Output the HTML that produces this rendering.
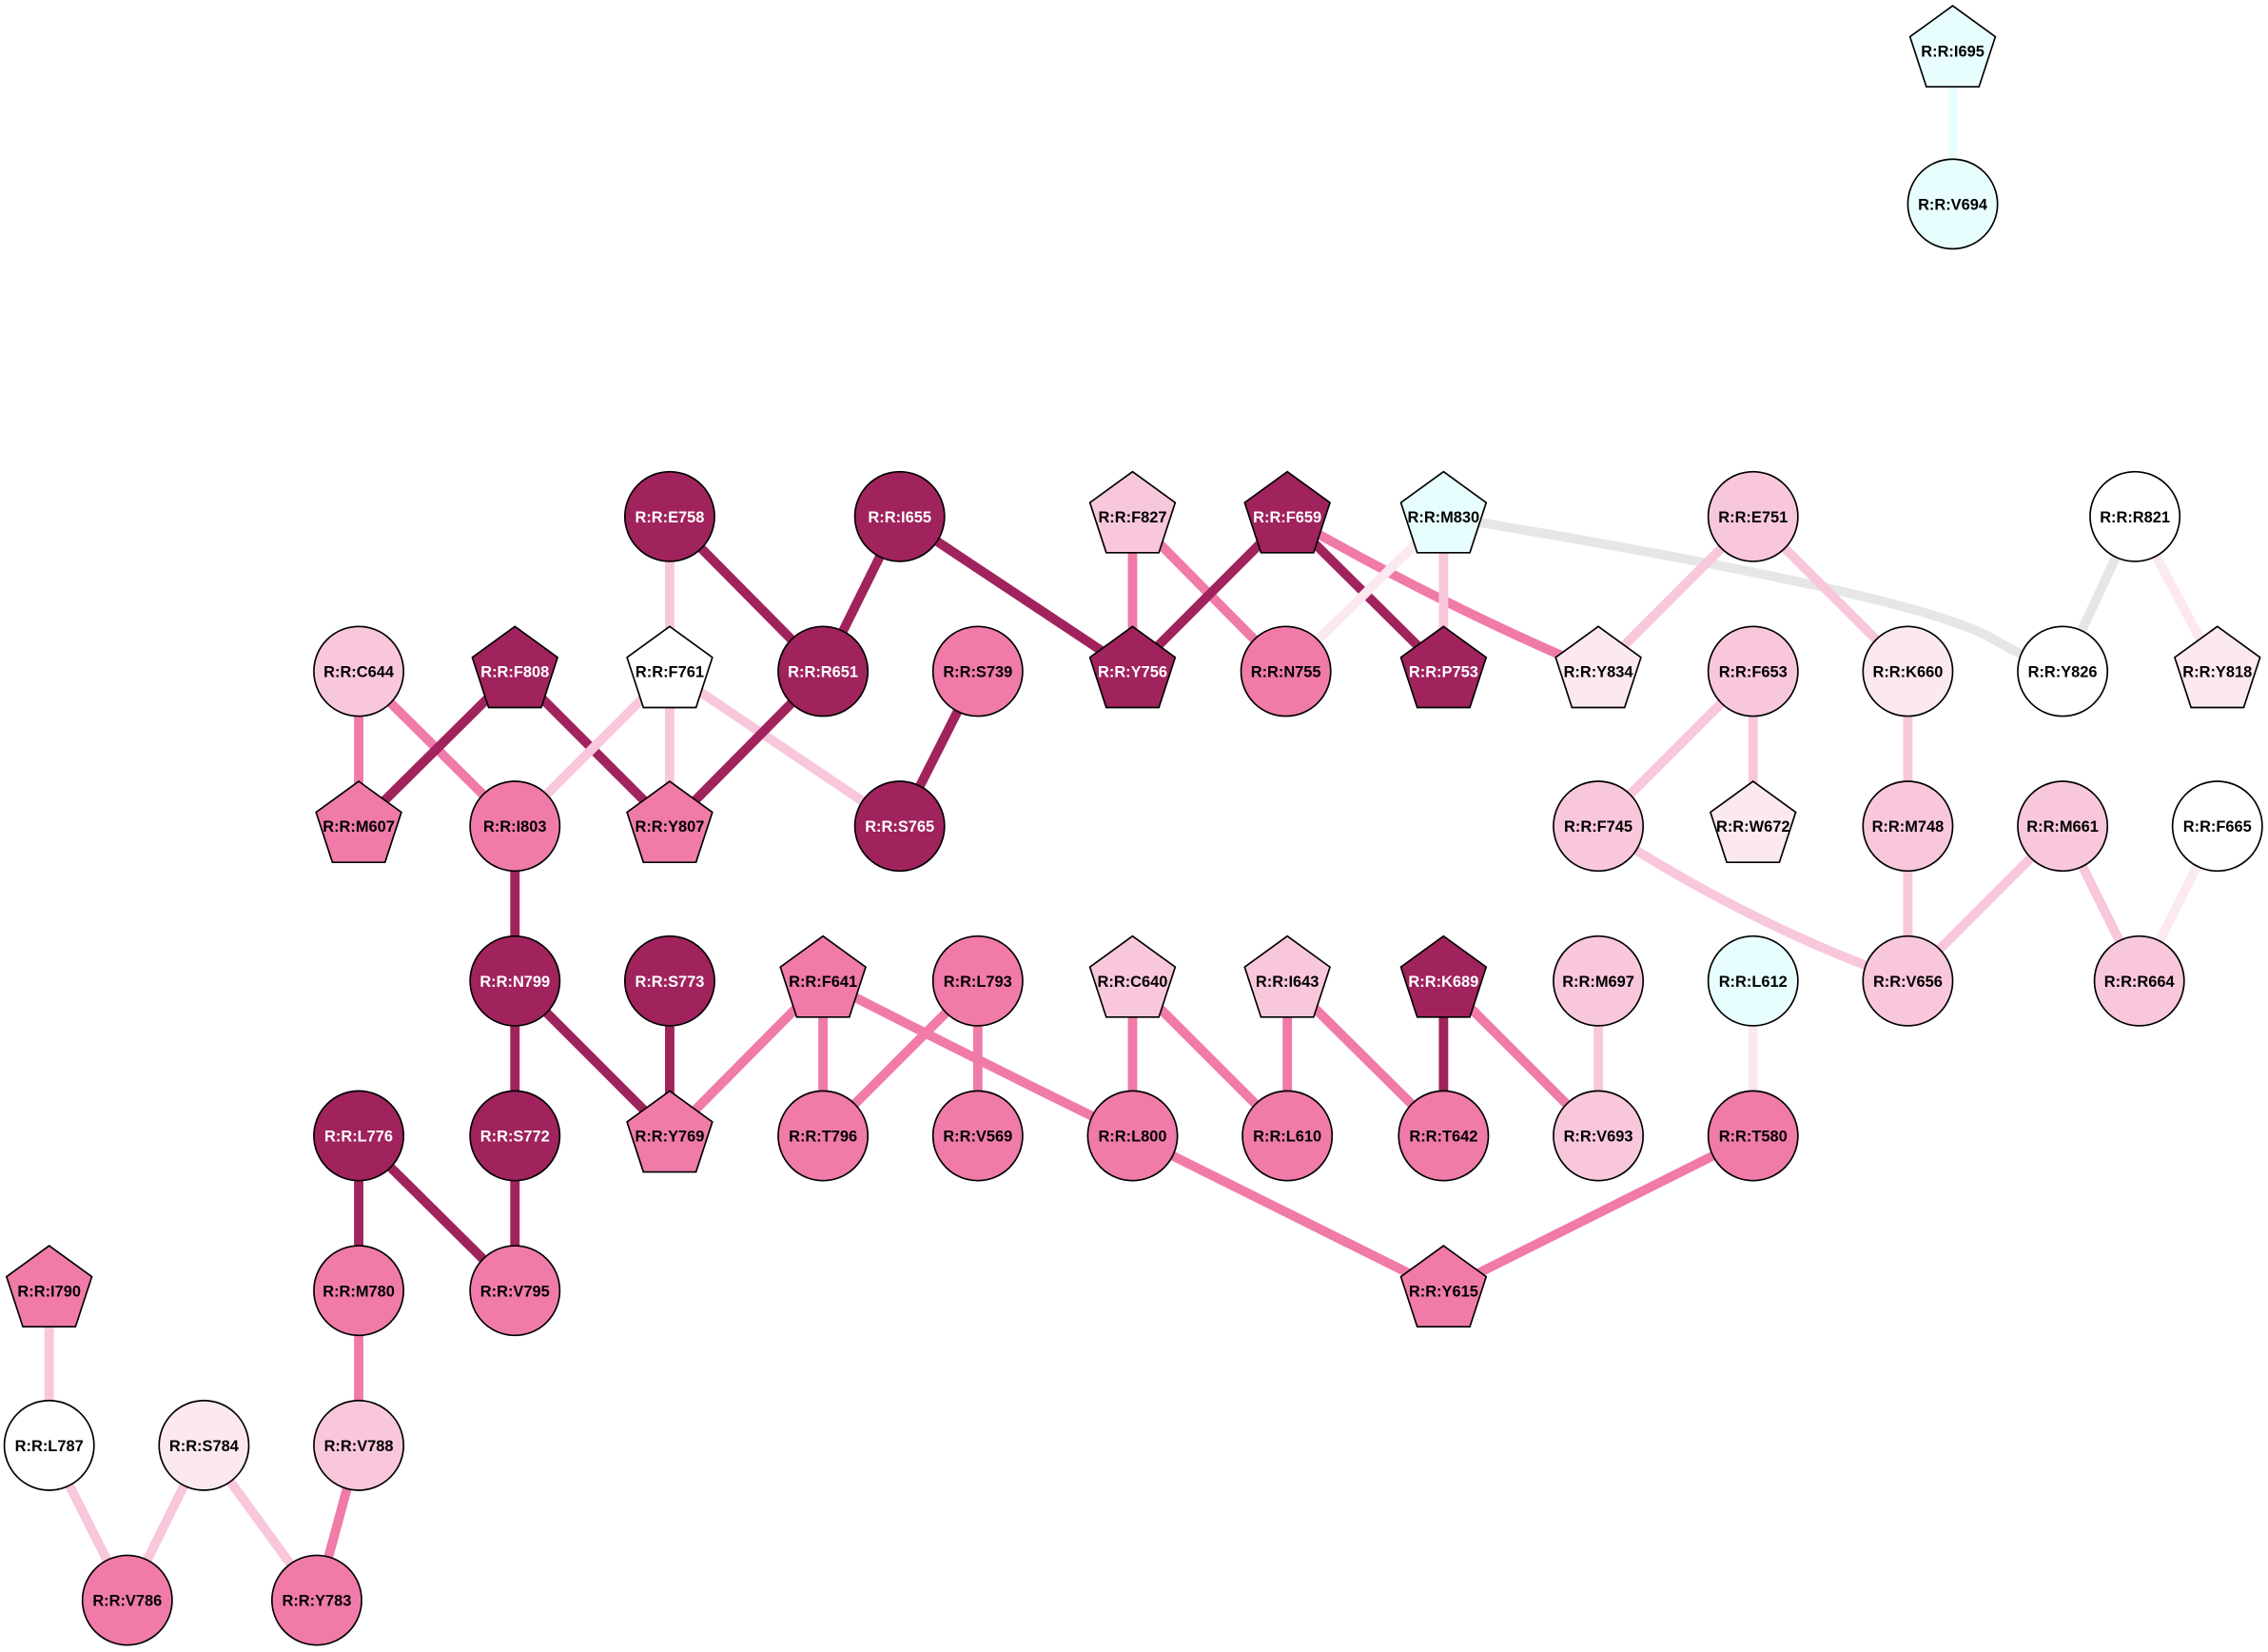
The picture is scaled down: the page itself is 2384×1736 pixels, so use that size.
<!DOCTYPE html>
<html><head><meta charset="utf-8"><style>
html,body{margin:0;padding:0;background:#fff;}
svg{display:block;}
text{font-family:"Liberation Sans",Arial,sans-serif;font-weight:bold;font-size:10.8px;text-anchor:middle;}
.w{fill:#fff}
.b{fill:#000}
circle,polygon{stroke:#000;stroke-width:1.1}
line,path{stroke-width:6.5;fill:none}
.D{stroke:#a0235d}.M{stroke:#f07ba8}.L{stroke:#f9c7dc}.V{stroke:#fce8f0}.C{stroke:#e8fefe}.G{stroke:#e6e6e6}
</style></head><body>
<svg width="2384" height="1736" viewBox="0 0 1568 1141.8" xmlns="http://www.w3.org/2000/svg">
<defs><polygon id="p" points="0,-31 29.5,-9.6 18.2,25 -18.2,25 -29.5,-9.6"/></defs>
<g>
<line class="C" x1="1350" y1="35" x2="1350" y2="141"/>
<line class="L" x1="463" y1="357" x2="463" y2="464"/>
<line class="D" x1="463" y1="357" x2="569" y2="464"/>
<line class="D" x1="622" y1="357" x2="569" y2="464"/>
<line class="D" x1="622" y1="357" x2="783" y2="464"/>
<line class="M" x1="783" y1="357" x2="783" y2="464"/>
<line class="M" x1="783" y1="357" x2="889" y2="464"/>
<line class="D" x1="890" y1="357" x2="783" y2="464"/>
<line class="D" x1="890" y1="357" x2="998" y2="464"/>
<path class="M" d="M890,357 Q1000,420 1105,464"/>
<line class="V" x1="998" y1="357" x2="889" y2="464"/>
<line class="L" x1="998" y1="357" x2="998" y2="464"/>
<path class="G" d="M998,357 Q1320,410 1375,440 Q1400,455 1426,464"/>
<line class="L" x1="1212" y1="357" x2="1105" y2="464"/>
<line class="L" x1="1212" y1="357" x2="1319" y2="464"/>
<line class="G" x1="1476" y1="357" x2="1426" y2="464"/>
<line class="V" x1="1476" y1="357" x2="1533" y2="464"/>
<line class="M" x1="248" y1="464" x2="248" y2="571"/>
<line class="M" x1="248" y1="464" x2="356" y2="571"/>
<line class="D" x1="356" y1="464" x2="248" y2="571"/>
<line class="D" x1="356" y1="464" x2="463" y2="571"/>
<line class="L" x1="463" y1="464" x2="356" y2="571"/>
<line class="L" x1="463" y1="464" x2="463" y2="571"/>
<line class="L" x1="463" y1="464" x2="622" y2="571"/>
<line class="D" x1="569" y1="464" x2="463" y2="571"/>
<line class="D" x1="676" y1="464" x2="622" y2="571"/>
<line class="L" x1="1212" y1="464" x2="1105" y2="571"/>
<line class="L" x1="1212" y1="464" x2="1212" y2="571"/>
<line class="L" x1="1319" y1="464" x2="1319" y2="571"/>
<line class="L" x1="1319" y1="571" x2="1319" y2="678"/>
<path class="L" d="M1105,571 Q1210,640 1319,678"/>
<line class="L" x1="1426" y1="571" x2="1319" y2="678"/>
<line class="L" x1="1426" y1="571" x2="1479" y2="678"/>
<line class="V" x1="1533" y1="571" x2="1479" y2="678"/>
<line class="D" x1="356" y1="571" x2="356" y2="678"/>
<line class="D" x1="356" y1="678" x2="356" y2="785"/>
<line class="D" x1="356" y1="678" x2="463" y2="785"/>
<line class="D" x1="463" y1="678" x2="463" y2="785"/>
<line class="M" x1="569" y1="678" x2="463" y2="785"/>
<line class="M" x1="569" y1="678" x2="569" y2="785"/>
<path class="M" d="M569,678 Q690,740 783,785"/>
<line class="M" x1="676" y1="678" x2="569" y2="785"/>
<line class="M" x1="676" y1="678" x2="676" y2="785"/>
<line class="M" x1="783" y1="678" x2="783" y2="785"/>
<line class="M" x1="783" y1="678" x2="890" y2="785"/>
<line class="M" x1="890" y1="678" x2="890" y2="785"/>
<line class="M" x1="890" y1="678" x2="998" y2="785"/>
<line class="D" x1="998" y1="678" x2="998" y2="785"/>
<line class="M" x1="998" y1="678" x2="1105" y2="785"/>
<line class="L" x1="1105" y1="678" x2="1105" y2="785"/>
<line class="V" x1="1212" y1="678" x2="1212" y2="785"/>
<line class="D" x1="248" y1="785" x2="248" y2="892"/>
<line class="D" x1="248" y1="785" x2="356" y2="892"/>
<line class="D" x1="356" y1="785" x2="356" y2="892"/>
<line class="M" x1="783" y1="785" x2="998" y2="892"/>
<line class="M" x1="1212" y1="785" x2="998" y2="892"/>
<line class="L" x1="34" y1="892" x2="34" y2="999"/>
<line class="L" x1="34" y1="999" x2="88" y2="1106"/>
<line class="L" x1="141" y1="999" x2="88" y2="1106"/>
<line class="L" x1="141" y1="999" x2="219" y2="1106"/>
<line class="M" x1="248" y1="892" x2="248" y2="999"/>
<line class="M" x1="248" y1="999" x2="219" y2="1106"/>
</g>
<g>
<use href="#p" x="1350" y="35" style="fill:#e8fefe;stroke:#000;stroke-width:1.1"/><text x="1350" y="39" class="b">R:R:I695</text>
<circle cx="1350" cy="141" r="31" fill="#e8fefe"/><text x="1350" y="145" class="b">R:R:V694</text>
<circle cx="463" cy="357" r="31" fill="#a0235d"/><text x="463" y="361" class="w">R:R:E758</text>
<circle cx="622" cy="357" r="31" fill="#a0235d"/><text x="622" y="361" class="w">R:R:I655</text>
<use href="#p" x="783" y="357" style="fill:#f9c7dc;stroke:#000;stroke-width:1.1"/><text x="783" y="361" class="b">R:R:F827</text>
<use href="#p" x="890" y="357" style="fill:#a0235d;stroke:#000;stroke-width:1.1"/><text x="890" y="361" class="w">R:R:F659</text>
<use href="#p" x="998" y="357" style="fill:#e8fefe;stroke:#000;stroke-width:1.1"/><text x="998" y="361" class="b">R:R:M830</text>
<circle cx="1212" cy="357" r="31" fill="#f9c7dc"/><text x="1212" y="361" class="b">R:R:E751</text>
<circle cx="1476" cy="357" r="31" fill="#ffffff"/><text x="1476" y="361" class="b">R:R:R821</text>
<circle cx="248" cy="464" r="31" fill="#f9c7dc"/><text x="248" y="468" class="b">R:R:C644</text>
<use href="#p" x="356" y="464" style="fill:#a0235d;stroke:#000;stroke-width:1.1"/><text x="356" y="468" class="w">R:R:F808</text>
<use href="#p" x="463" y="464" style="fill:#fff;stroke:#000;stroke-width:1.1"/><text x="463" y="468" class="b">R:R:F761</text>
<circle cx="569" cy="464" r="31" fill="#a0235d"/><text x="569" y="468" class="w">R:R:R651</text>
<circle cx="676" cy="464" r="31" fill="#f07ba8"/><text x="676" y="468" class="b">R:R:S739</text>
<use href="#p" x="783" y="464" style="fill:#a0235d;stroke:#000;stroke-width:1.1"/><text x="783" y="468" class="w">R:R:Y756</text>
<circle cx="889" cy="464" r="31" fill="#f07ba8"/><text x="889" y="468" class="b">R:R:N755</text>
<use href="#p" x="998" y="464" style="fill:#a0235d;stroke:#000;stroke-width:1.1"/><text x="998" y="468" class="w">R:R:P753</text>
<use href="#p" x="1105" y="464" style="fill:#fce8f0;stroke:#000;stroke-width:1.1"/><text x="1105" y="468" class="b">R:R:Y834</text>
<circle cx="1212" cy="464" r="31" fill="#f9c7dc"/><text x="1212" y="468" class="b">R:R:F653</text>
<circle cx="1319" cy="464" r="31" fill="#fce8f0"/><text x="1319" y="468" class="b">R:R:K660</text>
<circle cx="1426" cy="464" r="31" fill="#fff"/><text x="1426" y="468" class="b">R:R:Y826</text>
<use href="#p" x="1533" y="464" style="fill:#fce8f0;stroke:#000;stroke-width:1.1"/><text x="1533" y="468" class="b">R:R:Y818</text>
<use href="#p" x="248" y="571" style="fill:#f07ba8;stroke:#000;stroke-width:1.1"/><text x="248" y="575" class="b">R:R:M607</text>
<circle cx="356" cy="571" r="31" fill="#f07ba8"/><text x="356" y="575" class="b">R:R:I803</text>
<use href="#p" x="463" y="571" style="fill:#f07ba8;stroke:#000;stroke-width:1.1"/><text x="463" y="575" class="b">R:R:Y807</text>
<circle cx="622" cy="571" r="31" fill="#a0235d"/><text x="622" y="575" class="w">R:R:S765</text>
<circle cx="1105" cy="571" r="31" fill="#f9c7dc"/><text x="1105" y="575" class="b">R:R:F745</text>
<use href="#p" x="1212" y="571" style="fill:#fce8f0;stroke:#000;stroke-width:1.1"/><text x="1212" y="575" class="b">R:R:W672</text>
<circle cx="1319" cy="571" r="31" fill="#f9c7dc"/><text x="1319" y="575" class="b">R:R:M748</text>
<circle cx="1426" cy="571" r="31" fill="#f9c7dc"/><text x="1426" y="575" class="b">R:R:M661</text>
<circle cx="1533" cy="571" r="31" fill="#fff"/><text x="1533" y="575" class="b">R:R:F665</text>
<circle cx="356" cy="678" r="31" fill="#a0235d"/><text x="356" y="682" class="w">R:R:N799</text>
<circle cx="463" cy="678" r="31" fill="#a0235d"/><text x="463" y="682" class="w">R:R:S773</text>
<use href="#p" x="569" y="678" style="fill:#f07ba8;stroke:#000;stroke-width:1.1"/><text x="569" y="682" class="b">R:R:F641</text>
<circle cx="676" cy="678" r="31" fill="#f07ba8"/><text x="676" y="682" class="b">R:R:L793</text>
<use href="#p" x="783" y="678" style="fill:#f9c7dc;stroke:#000;stroke-width:1.1"/><text x="783" y="682" class="b">R:R:C640</text>
<use href="#p" x="890" y="678" style="fill:#f9c7dc;stroke:#000;stroke-width:1.1"/><text x="890" y="682" class="b">R:R:I643</text>
<use href="#p" x="998" y="678" style="fill:#a0235d;stroke:#000;stroke-width:1.1"/><text x="998" y="682" class="w">R:R:K689</text>
<circle cx="1105" cy="678" r="31" fill="#f9c7dc"/><text x="1105" y="682" class="b">R:R:M697</text>
<circle cx="1212" cy="678" r="31" fill="#e8fefe"/><text x="1212" y="682" class="b">R:R:L612</text>
<circle cx="1319" cy="678" r="31" fill="#f9c7dc"/><text x="1319" y="682" class="b">R:R:V656</text>
<circle cx="1479" cy="678" r="31" fill="#f9c7dc"/><text x="1479" y="682" class="b">R:R:R664</text>
<circle cx="248" cy="785" r="31" fill="#a0235d"/><text x="248" y="789" class="w">R:R:L776</text>
<circle cx="356" cy="785" r="31" fill="#a0235d"/><text x="356" y="789" class="w">R:R:S772</text>
<use href="#p" x="463" y="785" style="fill:#f07ba8;stroke:#000;stroke-width:1.1"/><text x="463" y="789" class="b">R:R:Y769</text>
<circle cx="569" cy="785" r="31" fill="#f07ba8"/><text x="569" y="789" class="b">R:R:T796</text>
<circle cx="676" cy="785" r="31" fill="#f07ba8"/><text x="676" y="789" class="b">R:R:V569</text>
<circle cx="783" cy="785" r="31" fill="#f07ba8"/><text x="783" y="789" class="b">R:R:L800</text>
<circle cx="890" cy="785" r="31" fill="#f07ba8"/><text x="890" y="789" class="b">R:R:L610</text>
<circle cx="998" cy="785" r="31" fill="#f07ba8"/><text x="998" y="789" class="b">R:R:T642</text>
<circle cx="1105" cy="785" r="31" fill="#f9c7dc"/><text x="1105" y="789" class="b">R:R:V693</text>
<circle cx="1212" cy="785" r="31" fill="#f07ba8"/><text x="1212" y="789" class="b">R:R:T580</text>
<use href="#p" x="34" y="892" style="fill:#f07ba8;stroke:#000;stroke-width:1.1"/><text x="34" y="896" class="b">R:R:I790</text>
<circle cx="248" cy="892" r="31" fill="#f07ba8"/><text x="248" y="896" class="b">R:R:M780</text>
<circle cx="356" cy="892" r="31" fill="#f07ba8"/><text x="356" y="896" class="b">R:R:V795</text>
<use href="#p" x="998" y="892" style="fill:#f07ba8;stroke:#000;stroke-width:1.1"/><text x="998" y="896" class="b">R:R:Y615</text>
<circle cx="34" cy="999" r="31" fill="#fff"/><text x="34" y="1003" class="b">R:R:L787</text>
<circle cx="141" cy="999" r="31" fill="#fce8f0"/><text x="141" y="1003" class="b">R:R:S784</text>
<circle cx="248" cy="999" r="31" fill="#f9c7dc"/><text x="248" y="1003" class="b">R:R:V788</text>
<circle cx="88" cy="1106" r="31" fill="#f07ba8"/><text x="88" y="1110" class="b">R:R:V786</text>
<circle cx="219" cy="1106" r="31" fill="#f07ba8"/><text x="219" y="1110" class="b">R:R:Y783</text>
</g>
</svg>
</body></html>
